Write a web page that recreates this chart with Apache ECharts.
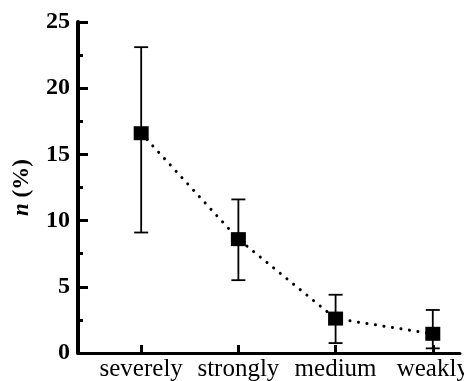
<!DOCTYPE html>
<html>
<head>
<meta charset="utf-8">
<script src="https://cdn.jsdelivr.net/npm/echarts@6/dist/echarts.min.js"></script>
<style>
  html, body { margin: 0; padding: 0; background: #fff; }
  #chart { width: 464px; height: 381px; }
</style>
</head>
<body>
<div id="chart"></div>
<script>
const categories = ['severely', 'strongly', 'medium', 'weakly'];
const positions = [1, 2, 3, 4];
const means = [16.6, 8.6, 2.6, 1.45];
const lows = [9.1, 5.5, 0.75, 0.35];
const highs = [23.1, 11.6, 4.4, 3.25];
const yTicks = [0, 5, 10, 15, 20, 25];

const chart = echarts.init(document.getElementById('chart'));

const serif = 'Liberation Serif, Times New Roman, serif';

const errData = positions.map((p, i) => [p, lows[i], highs[i]]);
const meanData = positions.map((p, i) => [p, means[i]]);

const option = {
  backgroundColor: '#fff',
  animation: false,
  grid: { left: 78, right: 4, top: 22, bottom: 28, outerBoundsMode: 'none' },
  xAxis: {
    type: 'value',
    min: 0.35,
    max: 4.28,
    splitLine: { show: false },
    axisLine: { lineStyle: { color: '#000', width: 3 } },
    axisTick: {
      show: true,
      inside: true,
      length: 8,
      customValues: positions,
      lineStyle: { color: '#000', width: 3 }
    },
    axisLabel: {
      customValues: positions,
      formatter: v => categories[Math.round(v) - 1] || '',
      color: '#000',
      fontFamily: serif,
      fontSize: 25,
      margin: 4,
      hideOverlap: false
    }
  },
  yAxis: {
    type: 'value',
    min: 0,
    max: 25,
    interval: 5,
    name: '{i|n} (%)',
    nameLocation: 'middle',
    nameRotate: 90,
    nameGap: 44,
    nameTextStyle: {
      color: '#000',
      fontFamily: serif,
      fontSize: 23,
      fontWeight: 'bold',
      rich: {
        i: { fontFamily: serif, fontSize: 23, fontWeight: 'bold', fontStyle: 'italic', color: '#000' }
      }
    },
    splitLine: { show: false },
    axisLine: { show: true, lineStyle: { color: '#000', width: 4 } },
    axisTick: { show: true, inside: true, length: 10, lineStyle: { color: '#000', width: 3 } },
    minorTick: { show: true, splitNumber: 2, length: 5, lineStyle: { color: '#000', width: 3 } },
    axisLabel: {
      color: '#000',
      fontFamily: serif,
      fontSize: 24,
      fontWeight: 'bold',
      margin: 8,
      customValues: yTicks
    }
  },
  series: [
    {
      type: 'line',
      data: meanData,
      symbol: 'none',
      lineStyle: { color: '#000', width: 3, type: [0.1, 8.5], cap: 'round' },
      z: 2
    },
    {
      type: 'custom',
      data: errData,
      z: 3,
      renderItem: (params, api) => {
        const x = api.value(0);
        const top = api.coord([x, api.value(2)]);
        const bot = api.coord([x, api.value(1)]);
        const hw = 7;
        const style = { stroke: '#000', lineWidth: 1.8, fill: null };
        return {
          type: 'group',
          children: [
            { type: 'line', shape: { x1: top[0], y1: top[1], x2: bot[0], y2: bot[1] }, style },
            { type: 'line', shape: { x1: top[0] - hw, y1: top[1], x2: top[0] + hw, y2: top[1] }, style },
            { type: 'line', shape: { x1: bot[0] - hw, y1: bot[1], x2: bot[0] + hw, y2: bot[1] }, style }
          ]
        };
      }
    },
    {
      type: 'scatter',
      data: meanData,
      symbol: 'rect',
      symbolSize: [15, 14],
      itemStyle: { color: '#000', opacity: 1 },
      z: 4
    }
  ]
};

chart.setOption(option);
</script>
</body>
</html>
